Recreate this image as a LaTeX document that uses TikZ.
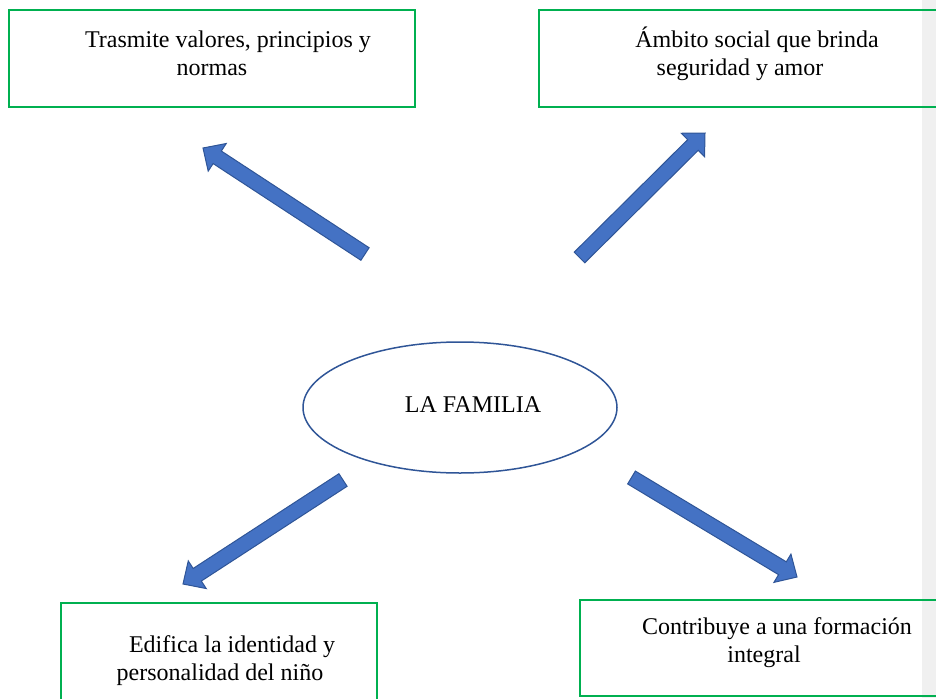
\documentclass[tikz,border=0pt]{standalone}
\usepackage{fontspec}
\setmainfont{Liberation Serif}
\usetikzlibrary{calc,shapes.geometric}
\definecolor{boxgreen}{HTML}{00B050}
\definecolor{arrowfill}{HTML}{4472C4}
\definecolor{arrowline}{HTML}{2F5597}
\definecolor{stripgray}{HTML}{F0F0F0}
\newcommand{\blockarrow}[2]{%
  \filldraw[blockarr]
    ($(#1)!7.5pt!90:(#2)$) --
    ($($(#2)!17pt!(#1)$)!7.5pt!-90:(#1)$) --
    ($($(#2)!17pt!(#1)$)!16.5pt!-90:(#1)$) --
    (#2) --
    ($($(#2)!17pt!(#1)$)!16.5pt!90:(#1)$) --
    ($($(#2)!17pt!(#1)$)!7.5pt!90:(#1)$) --
    ($(#1)!7.5pt!-90:(#2)$) -- cycle;}
\begin{document}
\begin{tikzpicture}[x=1pt,y=-1pt,
  greenbox/.style={draw=boxgreen, line width=1.5pt, rectangle, inner sep=0pt},
  boxtext/.style={font=\fontsize{24}{28}\selectfont, align=center, inner sep=0pt, anchor=base},
  blockarr/.style={fill=arrowfill, draw=arrowline, line width=1pt, line join=miter}]
\useasboundingbox (0,0) rectangle (936,698);
\fill[stripgray] (922,0) rectangle (936,698);
% boxes
\node[greenbox, minimum width=406pt, minimum height=97pt] (tl) at (212,58.5) {};
\node[greenbox, minimum width=411pt, minimum height=97pt] (tr) at (744.5,58.5) {};
\node[greenbox, minimum width=316pt, minimum height=110pt] (bl) at (219,658) {};
\node[greenbox, minimum width=370pt, minimum height=96pt] (br) at (765,648) {};
% texts (base = last line)
\node[boxtext] (tlt) at (212,75.5) {\hspace*{32pt}Trasmite valores, principios y\\normas};
\node[boxtext] (trt) at (740,75.5) {\hspace*{34pt}Ámbito social que brinda\\seguridad y amor};
\node[boxtext] (blt) at (220,680.5) {\hspace*{24pt}Edifica la identidad y\\personalidad del niño};
\node[boxtext] (brt) at (764,662) {\hspace*{26pt}Contribuye a una formación\\integral};
% center
\node[ellipse, draw=arrowline, line width=1.5pt, minimum width=314pt, minimum height=131pt, inner sep=0pt] (fam) at (460,407.5) {};
\node[font=\fontsize{24}{28}\selectfont, inner sep=0pt, anchor=base] (famt) at (473,412) {LA FAMILIA};
% arrow ends
\coordinate (a1t) at (365,254);   \coordinate (a1h) at (203,148);
\coordinate (a2t) at (579.5,257.5); \coordinate (a2h) at (705,133);
\coordinate (a3t) at (343,480);   \coordinate (a3h) at (183,584);
\coordinate (a4t) at (631.5,477.5); \coordinate (a4h) at (797,577);
\blockarrow{a1t}{a1h}
\blockarrow{a2t}{a2h}
\blockarrow{a3t}{a3h}
\blockarrow{a4t}{a4h}
\end{tikzpicture}
\end{document}
